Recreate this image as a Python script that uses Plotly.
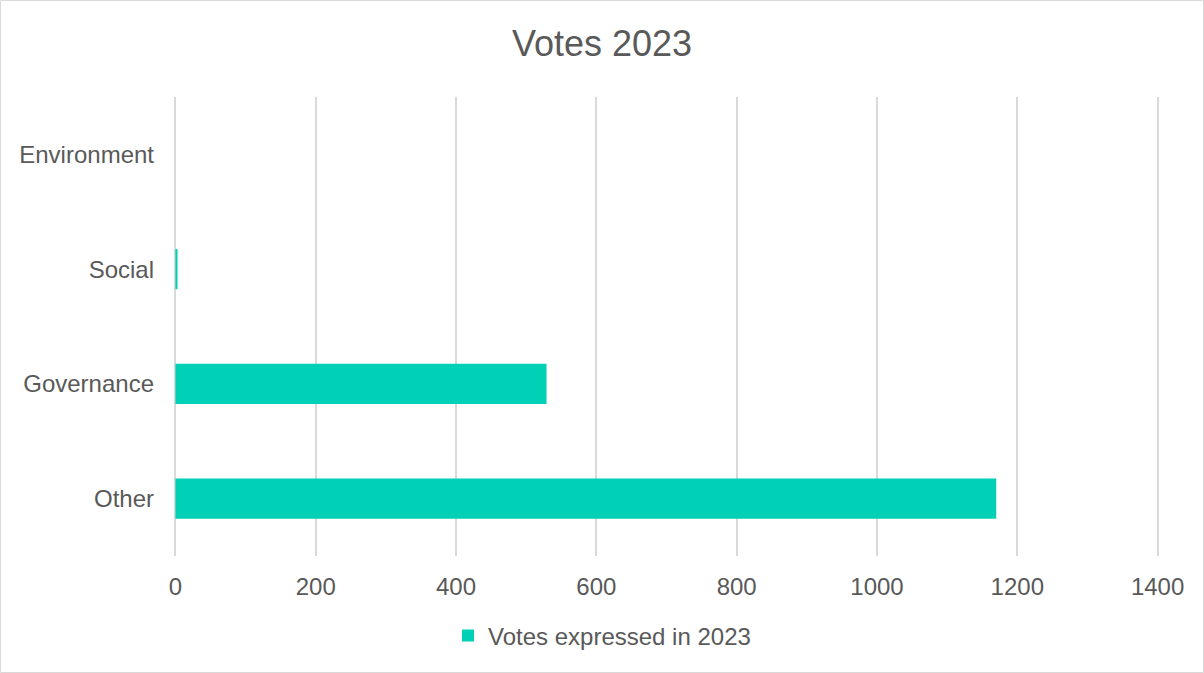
import plotly.graph_objects as go

categories = ["Environment", "Social", "Governance", "Other"]
votes = [0, 3, 529, 1170]
series_name = "Votes expressed in 2023"
x_ticks = [0, 200, 400, 600, 800, 1000, 1200, 1400]

W, H = 1204, 673
pad = 2  # small range padding so edge gridlines are drawn
ML, MR, MT, MB = 175 - 1, 46 - 1, 97, 117
pw, ph = W - ML - MR, H - MT - MB

text_col = "#595959"
bar_col = "#00D0B5"
grid_col = "#d9d9d9"
font_fam = "Liberation Sans, Arial, sans-serif"

fig = go.Figure()
fig.add_trace(go.Bar(
    y=categories, x=votes, orientation="h", name=series_name,
    marker=dict(color=bar_col, line=dict(width=0)),
    showlegend=True,
))

def px_to_paper_x(px):
    return (px - ML) / pw

def px_to_paper_y(py):
    return (H - MB - py) / ph

fig.update_layout(
    width=W, height=H,
    margin=dict(l=ML, r=MR, t=MT, b=MB),
    paper_bgcolor="white", plot_bgcolor="white",
    font=dict(family=font_fam, size=24, color=text_col),
    title=dict(text="Votes 2023", x=0.5, xanchor="center", xref="container",
               y=1 - 43 / H, yanchor="middle", yref="container",
               font=dict(size=36, color=text_col, family=font_fam)),
    bargap=0.651,
    showlegend=True,
    legend=dict(orientation="h", x=0.5, xanchor="center", xref="container",
                y=1 - 636 / H, yanchor="middle", yref="container",
                font=dict(size=24, color=text_col), itemclick=False),
    xaxis=dict(range=[-pad, 1400 + pad], tickvals=x_ticks, showgrid=True, gridcolor=grid_col,
               gridwidth=1.5, zeroline=True, zerolinecolor=grid_col, zerolinewidth=1.5,
               showline=False, ticks="",
               ticklabelstandoff=14, tickfont=dict(size=24, color=text_col)),
    yaxis=dict(categoryorder="array", categoryarray=categories, autorange="reversed",
               showgrid=False, zeroline=False, showline=False, ticks="",
               ticklabelstandoff=19, tickfont=dict(size=24, color=text_col)),
    shapes=[dict(type="rect", xref="paper", yref="paper",
                 x0=px_to_paper_x(0.5), x1=px_to_paper_x(W - 0.5),
                 y0=px_to_paper_y(H - 0.5), y1=px_to_paper_y(0.5),
                 line=dict(color=grid_col, width=1), layer="below")],
)

fig.write_html("out.html")
